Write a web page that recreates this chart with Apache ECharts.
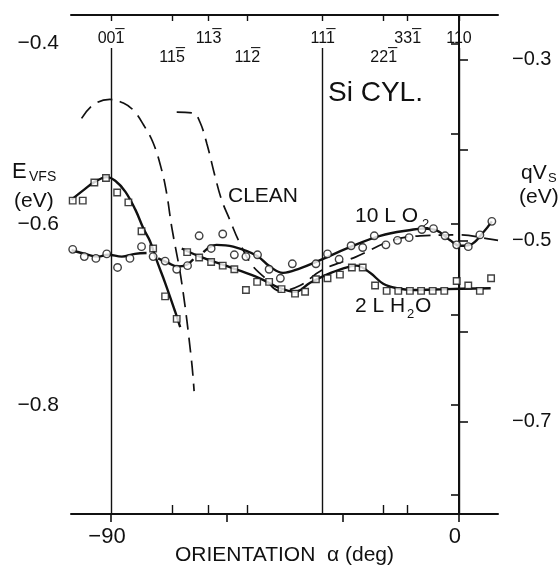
<!DOCTYPE html>
<html>
<head>
<meta charset="utf-8">
<script src="https://cdn.jsdelivr.net/npm/echarts@6/dist/echarts.min.js"></script>
<style>
html,body{margin:0;padding:0;background:#fff;}
#chart{width:558px;height:569px;}
</style>
</head>
<body>
<div id="chart"></div>
<script>
// ---- data (orientation angle in deg, energy in eV) ----
const sqAngle = [-99.9,-97.3,-94.3,-91.3,-88.4,-85.5,-82.1,-79.1,-76.0,-73.0,
  -70.3,-67.2,-64.1,-61.1,-58.1,-55.1,-52.2,-49.1,-45.9,-42.4,-39.8,-37.0,-34.0,-30.8,-27.7,-24.9,
  -21.7,-18.7,-15.7,-12.7,-9.8,-6.8,-3.8,-0.6,2.4,5.4,8.3];
const sqValue = [-0.574,-0.574,-0.554,-0.549,-0.565,-0.576,-0.608,-0.627,-0.680,-0.705,
  -0.631,-0.637,-0.642,-0.646,-0.650,-0.673,-0.664,-0.664,-0.672,-0.677,-0.675,-0.661,-0.660,-0.656,-0.648,-0.648,
  -0.668,-0.674,-0.674,-0.674,-0.674,-0.674,-0.674,-0.663,-0.668,-0.674,-0.660];

const ciAngle = [-99.9,-96.9,-93.9,-91.1,-88.3,-85.1,-82.1,-79.1,-76.0,-73.0,-70.2,-67.2,-64.1,-61.1,
  -58.1,-55.1,-52.1,-49.1,-46.2,-43.1,-37.0,-34.0,-31.0,-27.9,-24.9,-21.9,-18.9,-15.9,-12.9,-9.6,
  -6.6,-3.6,-0.6,2.4,5.4,8.5];
const ciValue = [-0.628,-0.636,-0.638,-0.633,-0.648,-0.638,-0.625,-0.636,-0.641,-0.650,-0.646,-0.613,-0.627,-0.611,
  -0.634,-0.636,-0.634,-0.650,-0.660,-0.644,-0.644,-0.633,-0.639,-0.624,-0.626,-0.613,-0.623,-0.618,-0.615,-0.606,
  -0.605,-0.613,-0.623,-0.625,-0.612,-0.597];

// fitted curves (hand-drawn solid lines)
const h2oCurveA_x = [-100.2,-96.7,-94.1,-91.1,-88.9,-86.3,-83.7,-81.6,-79.9,-78.2,-76.0,-73.4,-72.1];
const h2oCurveA_y = [-0.573,-0.561,-0.553,-0.548,-0.552,-0.564,-0.584,-0.605,-0.619,-0.640,-0.665,-0.697,-0.714];
const h2oCurveB_x = [-71.7,-67.0,-58.4,-51.5,-46.3,-42.4,-38.5,-34.2,-29.9,-26.5,-23.0,-19.6,-16.1,-11.8,-3.2,8.2];
const h2oCurveB_y = [-0.627,-0.636,-0.649,-0.660,-0.671,-0.675,-0.665,-0.656,-0.649,-0.646,-0.654,-0.666,-0.671,-0.673,-0.672,-0.671];

const o2CurveA_x = [-100.2,-96.7,-93.3,-90.7,-87.2,-83.8,-80.8];
const o2CurveA_y = [-0.629,-0.633,-0.636,-0.634,-0.636,-0.633,-0.632];
const o2CurveB_x = [-77.8,-75.2,-72.9,-70.4,-68.7];
const o2CurveB_y = [-0.638,-0.643,-0.647,-0.645,-0.639];
const o2CurveC_x = [-66.1,-62.7,-58.4,-52.3,-48.9,-45.5,-41.1,-35.9,-29.0,-20.4,-11.8,-9.2,-5.8,-2.3,0.3,2.8,6.3,8.5];
const o2CurveC_y = [-0.631,-0.623,-0.625,-0.635,-0.647,-0.654,-0.649,-0.640,-0.627,-0.613,-0.606,-0.605,-0.607,-0.618,-0.624,-0.623,-0.609,-0.597];

// clean surface (dashed)
const clean1_x = [-97.6,-94.6,-90.3,-86.8,-84.2,-81.6,-79.1,-76.9,-75.6,-74.3,-71.7,-69.2,-68.5];
const clean1_y = [-0.483,-0.468,-0.462,-0.466,-0.474,-0.490,-0.510,-0.540,-0.566,-0.603,-0.665,-0.750,-0.785];
const clean2_x = [-73.0,-68.7,-67.0,-65.2,-63.1,-61.4,-59.3,-56.7,-53.6,-50.6,-46.3,-41.1,-35.5,-26.5,-17.8,-10.1,0.3,7.2,10.1];
const clean2_y = [-0.476,-0.477,-0.487,-0.511,-0.547,-0.573,-0.595,-0.621,-0.645,-0.658,-0.674,-0.668,-0.651,-0.636,-0.619,-0.613,-0.612,-0.616,-0.618];

// axes
const xTicks = [-90,-60,-30,0];
const xLabels = [-90,0];
const leftTicks = [-0.9,-0.8,-0.7,-0.6,-0.5,-0.4];
const leftLabels = [-0.8,-0.6,-0.4];
const rightTicks = [-0.7,-0.6,-0.5,-0.4,-0.3];
const rightLabels = [-0.7,-0.5,-0.3];
// Miller indices: digits, and whether the last index carries an overbar
const orientUpperVals = [-90,-64.76,-35.26,-13.26,0];
const orientUpperText = ['001','113','111','331','110'];
const orientUpperBar  = [true,true,true,true,false];
const orientLowerVals = [-74.21,-54.74,-19.47];
const orientLowerText = ['115','112','221'];
const orientLowerBar  = [true,true,true];
const orientInnerBottom = [-74.21,-64.76,-54.74,-19.47,-13.26];
const orientAll = [-90,-74.21,-64.76,-54.74,-35.26,-19.47,-13.26,0];
const directionLines = [-90,-35.26,0];

const X_MIN = -100.34, X_MAX = 10.09;
const YL_MIN = -0.921, YL_MAX = -0.3685;
const YR_MIN = -0.8016, YR_MAX = -0.2508;
const LINE_TOP = -0.405;

const zip = (a,b) => a.map((v,i)=>[v,b[i]]);
const minus = v => (v<0?'\u2212':'') + Math.abs(v).toFixed(1);
const nearest = (vals, v) => { let bi=0,bd=1e9; vals.forEach((x,i)=>{const d=Math.abs(x-v); if(d<bd){bd=d;bi=i;}}); return bi; };
const miller = (vals, texts, bars) => v => {
  const i = nearest(vals, v), t = texts[i];
  const top = bars[i] ? '{h|' + t.slice(0,2) + '}{u|_}' : '{h|' + t + '}';
  return top + '\n{d|' + t + '}';
};

const FONT = 'Liberation Sans';
const black = '#111';
const solid = { color: black, width: 2.4 };
const dashed = { color: black, width: 1.7, type: [15, 8] };
const millerRich = {
  h:{fontSize:16,fontFamily:FONT,color:'rgba(0,0,0,0)',lineHeight:14},
  u:{fontSize:16,fontFamily:FONT,color:black,lineHeight:14},
  d:{fontSize:16,fontFamily:FONT,color:black,lineHeight:20}
};

const chart = echarts.init(document.getElementById('chart'), null, {renderer:'canvas'});
const baseX = { type:'value', min:X_MIN, max:X_MAX, splitLine:{show:false} };

chart.setOption({
  animation:false,
  backgroundColor:'#fff',
  grid:{left:71,right:60,top:15,bottom:55,outerBoundsMode:'none',containLabel:false},
  xAxis:[
    Object.assign({}, baseX, {
      position:'bottom',
      axisLine:{lineStyle:{color:black,width:2}},
      axisTick:{customValues:xTicks,length:8,inside:false,lineStyle:{color:black,width:1.6}},
      axisLabel:{customValues:xLabels,formatter:v=>v<0?'\u2212'+Math.abs(v):String(v),fontSize:22,fontFamily:FONT,color:black,margin:12,padding:[0,8,0,0]},
      name:'ORIENTATION  \u03b1 (deg)', nameLocation:'middle', nameGap:31, nameMoveOverlap:false,
      nameTextStyle:{fontSize:21,fontFamily:FONT,color:black,verticalAlign:'top'}
    }),
    Object.assign({}, baseX, {
      position:'bottom',
      axisLine:{show:false},
      axisTick:{customValues:orientInnerBottom,length:9,inside:true,lineStyle:{color:black,width:1.4}},
      axisLabel:{show:false}
    }),
    Object.assign({}, baseX, {
      position:'top',
      axisLine:{lineStyle:{color:black,width:2}},
      axisTick:{customValues:orientAll,length:6,inside:true,lineStyle:{color:black,width:1.4}},
      axisLabel:{customValues:orientUpperVals,inside:true,margin:0,formatter:miller(orientUpperVals,orientUpperText,orientUpperBar),rich:millerRich}
    }),
    Object.assign({}, baseX, {
      position:'top',
      axisLine:{show:false},
      axisTick:{show:false},
      axisLabel:{customValues:orientLowerVals,inside:true,margin:19,formatter:miller(orientLowerVals,orientLowerText,orientLowerBar),rich:millerRich}
    })
  ],
  yAxis:[
    { type:'value', position:'left', min:YL_MIN, max:YL_MAX, splitLine:{show:false},
      axisLine:{show:true,lineStyle:{color:black,width:2}},
      axisTick:{customValues:leftTicks,length:8,lineStyle:{color:black,width:1.6}},
      axisLabel:{customValues:leftLabels,formatter:minus,fontSize:21,fontFamily:FONT,color:black,margin:12}
    },
    { type:'value', position:'right', min:YR_MIN, max:YR_MAX, splitLine:{show:false},
      axisLine:{show:true,lineStyle:{color:black,width:2}},
      axisTick:{customValues:rightTicks,length:9,lineStyle:{color:black,width:1.6}},
      axisLabel:{customValues:rightLabels,formatter:minus,fontSize:20,fontFamily:FONT,color:black,margin:14}
    }
  ],
  series:[
    { type:'line', data:zip(h2oCurveA_x,h2oCurveA_y), smooth:0.4, showSymbol:false, lineStyle:solid, z:2,
      markLine:{ silent:true, symbol:'none', label:{show:false},
        lineStyle:{color:black,width:1.4,type:'solid'},
        data: directionLines.map(x=>[{coord:[x,LINE_TOP]},{coord:[x,YL_MIN]}]) } },
    { type:'line', data:zip(h2oCurveB_x,h2oCurveB_y), smooth:0.4, showSymbol:false, lineStyle:solid, z:2 },
    { type:'line', data:zip(o2CurveA_x,o2CurveA_y), smooth:0.4, showSymbol:false, lineStyle:solid, z:2 },
    { type:'line', data:zip(o2CurveB_x,o2CurveB_y), smooth:0.4, showSymbol:false, lineStyle:solid, z:2 },
    { type:'line', data:zip(o2CurveC_x,o2CurveC_y), smooth:0.4, showSymbol:false, lineStyle:solid, z:2 },
    { type:'line', data:zip(clean1_x,clean1_y), smooth:0.4, showSymbol:false, lineStyle:dashed, z:2 },
    { type:'line', data:zip(clean2_x,clean2_y), smooth:0.4, showSymbol:false, lineStyle:dashed, z:2 },
    { type:'scatter', data:zip(sqAngle,sqValue), symbol:'rect', symbolSize:6.5,
      itemStyle:{color:'#fff',borderColor:black,borderWidth:1.4}, z:5 },
    { type:'scatter', data:zip(ciAngle,ciValue), symbol:'circle', symbolSize:7.5,
      itemStyle:{color:'#fff',borderColor:black,borderWidth:1.4}, z:5 }
  ],
  graphic:[
    {type:'text', x:12, y:172, style:{text:'E', font:'22px '+FONT, fill:black, verticalAlign:'middle'}},
    {type:'text', x:29, y:177, style:{text:'VFS', font:'14px '+FONT, fill:black, verticalAlign:'middle'}},
    {type:'text', x:14, y:201, style:{text:'(eV)', font:'21px '+FONT, fill:black, verticalAlign:'middle'}},
    {type:'text', x:521, y:173, style:{text:'qV', font:'21px '+FONT, fill:black, verticalAlign:'middle'}},
    {type:'text', x:548, y:178, style:{text:'S', font:'13px '+FONT, fill:black, verticalAlign:'middle'}},
    {type:'text', x:519, y:197, style:{text:'(eV)', font:'21px '+FONT, fill:black, verticalAlign:'middle'}},
    {type:'text', x:328, y:93, style:{text:'Si CYL.', font:'28px '+FONT, fill:black, verticalAlign:'middle'}},
    {type:'text', x:228, y:196, style:{text:'CLEAN', font:'21px '+FONT, fill:black, verticalAlign:'middle'}},
    {type:'text', x:355, y:216, style:{text:'10 L O', font:'21px '+FONT, fill:black, verticalAlign:'middle'}},
    {type:'text', x:422, y:224, style:{text:'2', font:'13px '+FONT, fill:black, verticalAlign:'middle'}},
    {type:'text', x:355, y:306, style:{text:'2 L H', font:'21px '+FONT, fill:black, verticalAlign:'middle'}},
    {type:'text', x:407, y:314, style:{text:'2', font:'13px '+FONT, fill:black, verticalAlign:'middle'}},
    {type:'text', x:415, y:306, style:{text:'O', font:'21px '+FONT, fill:black, verticalAlign:'middle'}}
  ]
});
</script>
</body>
</html>
